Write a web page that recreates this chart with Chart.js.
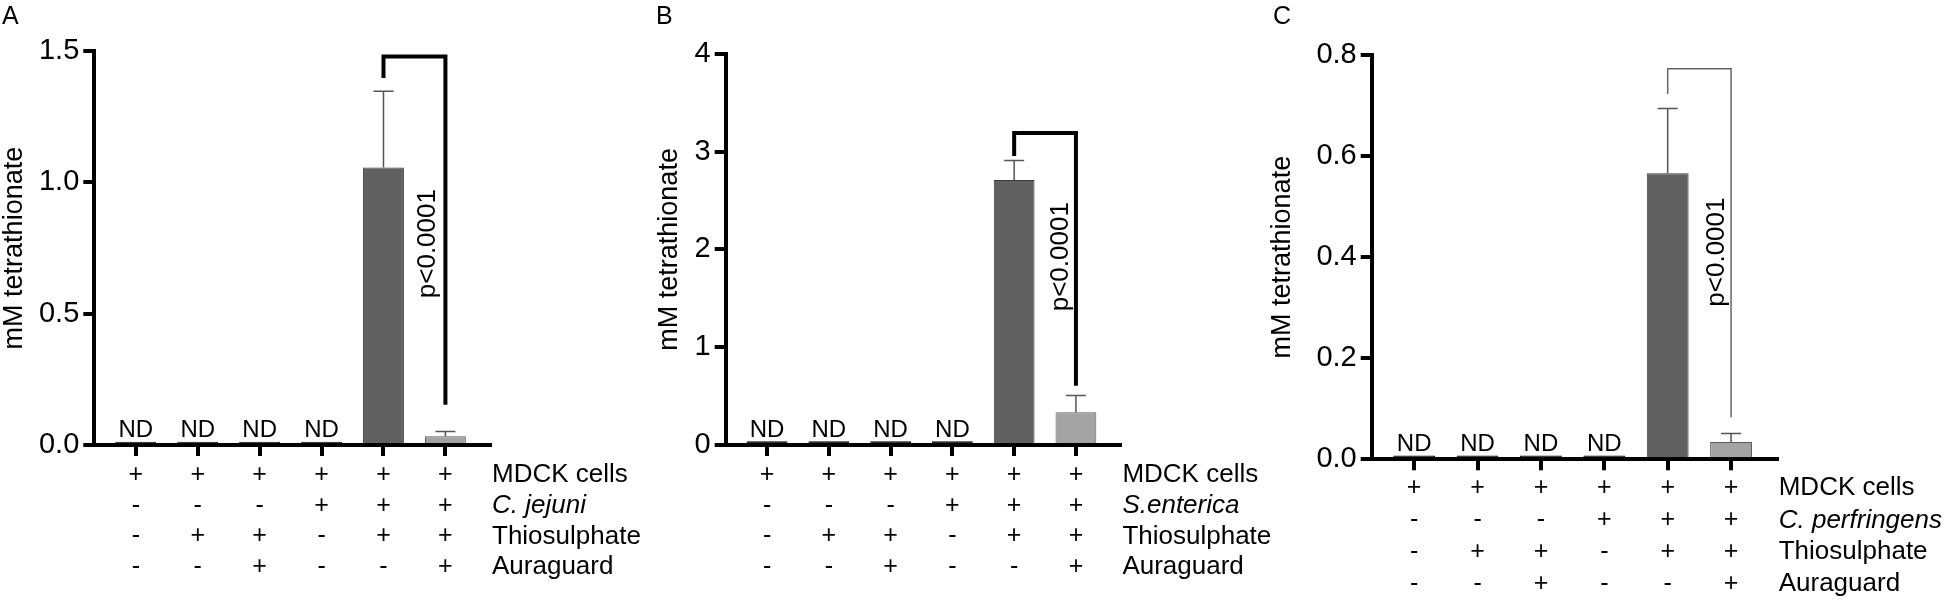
<!DOCTYPE html>
<html>
<head>
<meta charset="utf-8">
<title>Tetrathionate production</title>
<script src="https://cdn.jsdelivr.net/npm/chart.js@4.4.1/dist/chart.umd.min.js"></script>
<style>
  html, body { margin: 0; padding: 0; background: #fff; }
  #wrap { position: relative; width: 1960px; height: 603px; overflow: hidden; }
  .panel { position: absolute; top: 0; height: 603px; }
</style>
</head>
<body>
<div id="wrap">
  <div class="panel" style="left:0;width:660px"><canvas id="chartA"></canvas></div>
  <div class="panel" style="left:620px;width:680px"><canvas id="chartB"></canvas></div>
  <div class="panel" style="left:1240px;width:720px"><canvas id="chartC"></canvas></div>
</div>
<script>
/* ── DATA ── */
const conditionRows = [
  ['+', '-', '-', '-'],
  ['+', '-', '+', '-'],
  ['+', '-', '+', '+'],
  ['+', '+', '-', '-'],
  ['+', '+', '+', '-'],
  ['+', '+', '+', '+']
];
const notDetected = [true, true, true, true, false, false];

const rowNamesA = ['MDCK cells', 'C. jejuni', 'Thiosulphate', 'Auraguard'];
const rowNamesB = ['MDCK cells', 'S.enterica', 'Thiosulphate', 'Auraguard'];
const rowNamesC = ['MDCK cells', 'C. perfringens', 'Thiosulphate', 'Auraguard'];

const valuesA = [0.012, 0.012, 0.012, 0.012, 1.057, 0.033];
const valuesB = [0.038, 0.038, 0.038, 0.038, 2.71, 0.336];
const valuesC = [0.0075, 0.0075, 0.0075, 0.0075, 0.566, 0.034];

const errorTopA = [null, null, null, null, 1.347, 0.051];
const errorTopB = [null, null, null, null, 2.91, 0.506];
const errorTopC = [null, null, null, null, 0.694, 0.051];

const yTicksA = [0, 0.5, 1.0, 1.5];
const yTicksB = [0, 1, 2, 3, 4];
const yTicksC = [0, 0.2, 0.4, 0.6, 0.8];

// bracket: [top, left leg end, right leg end]
const bracketA = [1.48, 1.398, 0.153];
const bracketB = [3.19, 2.956, 0.605];
const bracketC = [0.773, 0.723, 0.083];

const pValueLabel = 'p<0.0001';
const yTitle = 'mM tetrathionate';

(function() {
  'use strict';

  const FONT = "'Liberation Sans', Arial, Helvetica, sans-serif";
  const fillColors = ['#000', '#000', '#000', '#000', '#606060', '#a3a3a3'];
  const edgeColors = ['#000', '#000', '#000', '#000', '#3a3a3a', '#5c5c5c'];

  /* ── PANEL LAYOUT (page pixels) ── */
  const panels = [
    { id: 'chartA', letter: 'A', left: 0, width: 660, axisX: 94.3, axisEnd: 490, topY: 51.2, zeroY: 445,
      rowH: 30.6, tickPad: 4, titleX: 15, letterX: 2, decimals: 1, pPos: [4.71, 0.767],
      heavyBracket: true, rows: rowNamesA, values: valuesA, err: errorTopA, ticks: yTicksA, bracket: bracketA },
    { id: 'chartB', letter: 'B', left: 620, width: 680, axisX: 725.7, axisEnd: 1120.4, topY: 53.8, zeroY: 445,
      rowH: 30.6, tickPad: 4, titleX: 670, letterX: 656, decimals: 0, pPos: [4.75, 1.925],
      heavyBracket: true, rows: rowNamesB, values: valuesB, err: errorTopB, ticks: yTicksB, bracket: bracketB },
    { id: 'chartC', letter: 'C', left: 1240, width: 720, axisX: 1371.7, axisEnd: 1776.7, topY: 55, zeroY: 459.3,
      rowH: 32, tickPad: 2, titleX: 1283, letterX: 1273, decimals: 1, pPos: [4.77, 0.41],
      heavyBracket: false, rows: rowNamesC, values: valuesC, err: errorTopC, ticks: yTicksC, bracket: bracketC }
  ];

  const Y_AXIS_W = 80;
  const X_AXIS_H = 140;
  const TICK_LEN = 11;

  function annotations(p) {
    return {
      id: 'annot' + p.letter,
      afterDatasetsDraw(chart) {
        const { ctx, scales: { x, y } } = chart;
        ctx.save();
        ctx.strokeStyle = '#555';
        ctx.lineWidth = 1.5;
        p.err.forEach((e, i) => {
          if (e == null) return;
          const cx = x.getPixelForValue(i);
          const top = y.getPixelForValue(e);
          const base = y.getPixelForValue(p.values[i]);
          ctx.beginPath();
          ctx.moveTo(cx, base); ctx.lineTo(cx, top);
          ctx.moveTo(cx - 10, top); ctx.lineTo(cx + 10, top);
          ctx.stroke();
        });
        ctx.restore();
      },
      afterDraw(chart) {
        const { ctx, chartArea: area, scales: { x, y } } = chart;
        ctx.save();
        ctx.fillStyle = '#000';

        // panel letter
        ctx.font = `25px ${FONT}`;
        ctx.textAlign = 'left';
        ctx.textBaseline = 'top';
        ctx.fillText(p.letter, p.letterX - p.left, 5);

        // y title
        ctx.save();
        ctx.translate(p.titleX - p.left, (area.top + area.bottom) / 2);
        ctx.rotate(-Math.PI / 2);
        ctx.font = `27px ${FONT}`;
        ctx.textAlign = 'center';
        ctx.textBaseline = 'middle';
        ctx.fillText(yTitle, 0, 0);
        ctx.restore();

        // ND labels
        ctx.font = `24px ${FONT}`;
        ctx.textAlign = 'center';
        ctx.textBaseline = 'alphabetic';
        notDetected.forEach((nd, i) => {
          if (nd) ctx.fillText('ND', x.getPixelForValue(i), y.getPixelForValue(0) - 8);
        });

        // significance bracket
        const [bTop, bLeft, bRight] = p.bracket;
        const x4 = x.getPixelForValue(4), x5 = x.getPixelForValue(5);
        ctx.beginPath();
        ctx.moveTo(x4, y.getPixelForValue(bLeft));
        ctx.lineTo(x4, y.getPixelForValue(bTop));
        ctx.lineTo(x5, y.getPixelForValue(bTop));
        ctx.lineTo(x5, y.getPixelForValue(bRight));
        ctx.lineJoin = 'miter';
        ctx.lineWidth = p.heavyBracket ? 4 : 1.5;
        ctx.strokeStyle = p.heavyBracket ? '#000' : '#666';
        ctx.stroke();

        // p value
        ctx.save();
        ctx.translate(x.getPixelForValue(p.pPos[0]), y.getPixelForValue(p.pPos[1]));
        ctx.rotate(-Math.PI / 2);
        ctx.font = `26px ${FONT}`;
        ctx.textAlign = 'center';
        ctx.textBaseline = 'middle';
        ctx.fillText(pValueLabel, 0, 0);
        ctx.restore();

        // condition row names
        ctx.textAlign = 'left';
        ctx.textBaseline = 'middle';
        p.rows.forEach((name, k) => {
          ctx.font = (k === 1 ? 'italic ' : '') + `26px ${FONT}`;
          ctx.fillText(name, area.right + 2, x.top + TICK_LEN + p.tickPad + p.rowH * (k + 0.5));
        });
        ctx.restore();
      }
    };
  }

  function buildChart(p) {
    const canvas = document.getElementById(p.id);
    const yMax = p.ticks[p.ticks.length - 1];
    return new Chart(canvas, {
      type: 'bar',
      data: {
        datasets: [{
          data: p.values.map((v, i) => ({ x: i, y: v })),
          backgroundColor: fillColors,
          borderColor: edgeColors,
          borderWidth: 1,
          barPercentage: 0.66,
          categoryPercentage: 1
        }]
      },
      options: {
        responsive: true,
        maintainAspectRatio: false,
        animation: false,
        events: [],
        layout: {
          padding: {
            left: p.axisX - p.left - Y_AXIS_W,
            right: p.left + p.width - p.axisEnd,
            top: p.topY,
            bottom: 603 - X_AXIS_H - p.zeroY
          }
        },
        plugins: { legend: { display: false }, tooltip: { enabled: false } },
        scales: {
          x: {
            type: 'linear',
            min: -0.67, max: 5.72,
            offset: false,
            z: 1,
            afterBuildTicks: s => { s.ticks = conditionRows.map((_, i) => ({ value: i })); },
            afterFit: s => { s.height = X_AXIS_H; },
            grid: { offset: false, drawOnChartArea: false, drawTicks: true, tickLength: TICK_LEN, lineWidth: 4, color: '#000' },
            border: { display: true, width: 4, color: '#000' },
            ticks: {
              autoSkip: false, maxRotation: 0, minRotation: 0,
              padding: p.tickPad,
              color: '#000',
              font: { family: FONT, size: 25, lineHeight: p.rowH + 'px' },
              callback: v => conditionRows[v]
            }
          },
          y: {
            min: 0, max: yMax,
            z: 1,
            afterBuildTicks: s => { s.ticks = p.ticks.map(v => ({ value: v })); },
            afterFit: s => { s.width = Y_AXIS_W; },
            grid: { drawOnChartArea: false, drawTicks: true, tickLength: TICK_LEN, lineWidth: 4, color: '#000' },
            border: { display: true, width: 4, color: '#000' },
            ticks: {
              padding: 4,
              color: '#000',
              font: { family: FONT, size: 29 },
              callback: v => Number(v).toFixed(p.decimals)
            }
          }
        }
      },
      plugins: [annotations(p)]
    });
  }

  panels.forEach(buildChart);
})();
</script>
</body>
</html>
